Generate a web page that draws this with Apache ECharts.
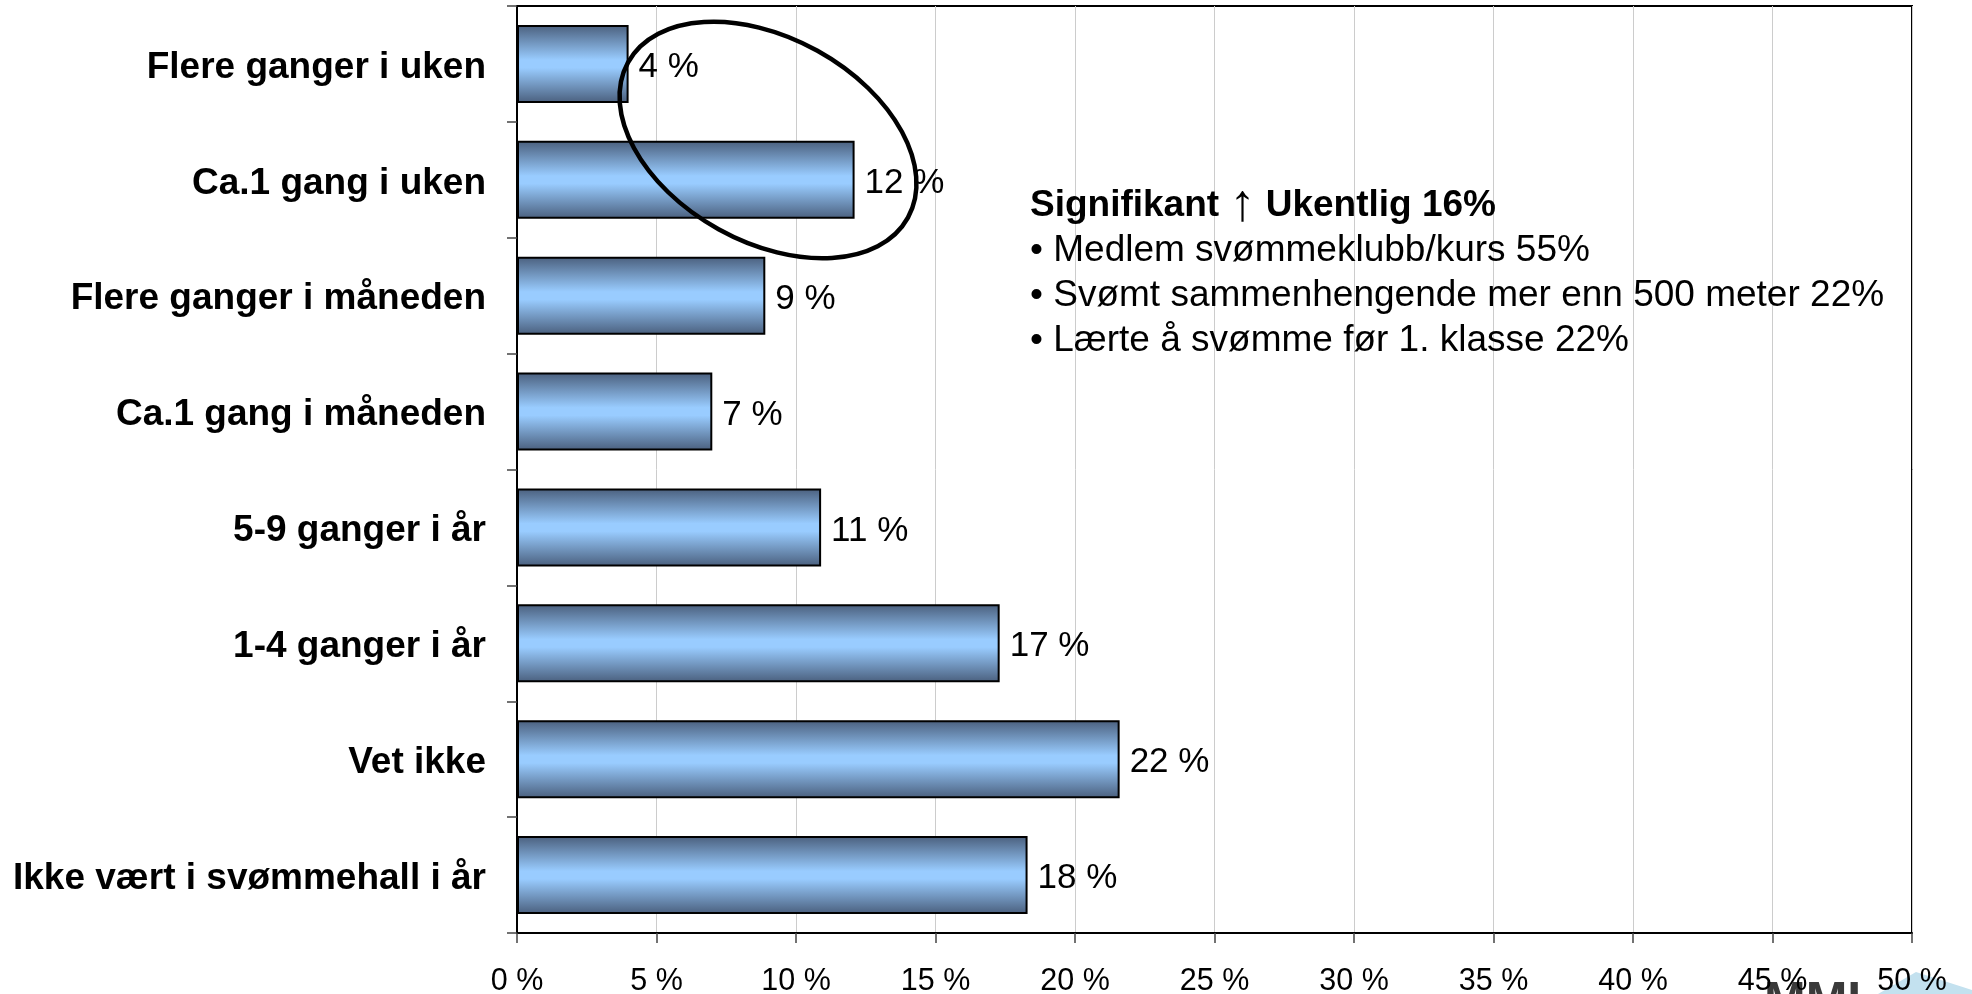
<!DOCTYPE html>
<html>
<head>
<meta charset="utf-8">
<script src="https://cdn.jsdelivr.net/npm/echarts@6/dist/echarts.min.js"></script>
<style>
html,body{margin:0;padding:0;background:#fff;}
#chart{width:1972px;height:994px;}
</style>
</head>
<body>
<div id="chart"></div>
<script>
const categories = [
  'Flere ganger i uken',
  'Ca.1 gang i uken',
  'Flere ganger i måneden',
  'Ca.1 gang i måneden',
  '5-9 ganger i år',
  '1-4 ganger i år',
  'Vet ikke',
  'Ikke vært i svømmehall i år'
];
const values = [4.0, 12.1, 8.9, 7.0, 10.9, 17.3, 21.6, 18.3];
const valueLabels = ['4 %', '12 %', '9 %', '7 %', '11 %', '17 %', '22 %', '18 %'];
const xTicks = [0, 5, 10, 15, 20, 25, 30, 35, 40, 45, 50];
const noteTitleA = 'Signifikant ';
const noteArrow = '\u2191';
const noteTitleB = ' Ukentlig 16%';
const noteLines = [
  '\u2022 Medlem svømmeklubb/kurs 55%',
  '\u2022 Svømt sammenhengende mer enn 500 meter 22%',
  '\u2022 Lærte å svømme før 1. klasse 22%'
];

const FONT = '"Liberation Sans", Arial, sans-serif';
const chart = echarts.init(document.getElementById('chart'));

const barGradient = new echarts.graphic.LinearGradient(0, 0, 0, 1, [
  {offset: 0, color: '#4a5f7d'},
  {offset: 0.45, color: '#99ccff'},
  {offset: 0.55, color: '#99ccff'},
  {offset: 1, color: '#4a5f7d'}
]);

const option = {
  backgroundColor: '#ffffff',
  animation: false,
  grid: {
    left: 517, right: 60, top: 6, bottom: 61,
    show: true, borderColor: '#000', borderWidth: 2,
    containLabel: false,
    outerBoundsMode: 'none'
  },
  xAxis: {
    type: 'value',
    min: xTicks[0], max: xTicks[xTicks.length - 1], interval: 5,
    axisLine: {show: true, lineStyle: {color: '#000', width: 2}},
    axisTick: {show: true, length: 10, lineStyle: {color: '#444', width: 1.5}},
    axisLabel: {
      margin: 33, color: '#000', fontFamily: FONT, fontSize: 30.5,
      formatter: v => v + ' %'
    },
    splitLine: {show: true, lineStyle: {color: '#cccccc', width: 1}}
  },
  yAxis: {
    type: 'category',
    data: categories,
    inverse: true,
    axisLine: {show: true, lineStyle: {color: '#000', width: 2}},
    axisTick: {show: true, length: 10, lineStyle: {color: '#444', width: 1.5}},
    axisLabel: {
      margin: 31, color: '#000',
      formatter: v => '{c|' + v + '}',
      rich: {c: {fontFamily: FONT, fontSize: 37, fontWeight: 'bold', color: '#000', padding: [7, 0, 0, 0]}}
    },
    splitLine: {show: false}
  },
  series: [{
    type: 'bar',
    data: values,
    barWidth: 78,
    itemStyle: {color: barGradient, borderColor: '#000', borderWidth: 2},
    label: {
      show: true, position: 'right', distance: 10,
      color: '#000',
      formatter: p => '{v|' + valueLabels[p.dataIndex] + '}',
      rich: {v: {fontFamily: FONT, fontSize: 35, color: '#000', padding: [7, 0, 0, 0]}}
    },
    z: 2
  }],
  graphic: [
    {
      type: 'ellipse',
      x: 768, y: 140,
      rotation: -29 * Math.PI / 180,
      shape: {cx: 0, cy: 0, rx: 160, ry: 102},
      style: {fill: 'none', stroke: '#000', lineWidth: 4.5},
      z: 100
    },
    {
      type: 'text',
      x: 1030, y: 183,
      style: {
        text: '{b|' + noteTitleA + '}{a|' + noteArrow + '}{b|' + noteTitleB + '}\n' +
              noteLines.map(l => '{n|' + l + '}').join('\n'),
        fill: '#000',
        font: '37px ' + FONT,
        rich: {
          b: {fontFamily: FONT, fontSize: 37, fontWeight: 'bold', lineHeight: 45, fill: '#000', verticalAlign: 'middle'},
          a: {fontFamily: FONT, fontSize: 52, fontWeight: 'normal', lineHeight: 45, fill: '#000', verticalAlign: 'middle'},
          n: {fontFamily: FONT, fontSize: 37, lineHeight: 45, fill: '#000'}
        }
      },
      z: 100
    },
    {
      type: 'polygon',
      shape: {points: [[1878, 994], [1916, 972], [1972, 990], [1972, 994]]},
      style: {fill: '#c3e1ef'},
      z: -1
    },
    {
      type: 'text',
      x: 1764, y: 978,
      style: {text: 'MMI', font: 'bold 50px ' + FONT, fill: '#3a3a3a'},
      z: -1
    }
  ]
};
chart.setOption(option);
</script>
</body>
</html>
